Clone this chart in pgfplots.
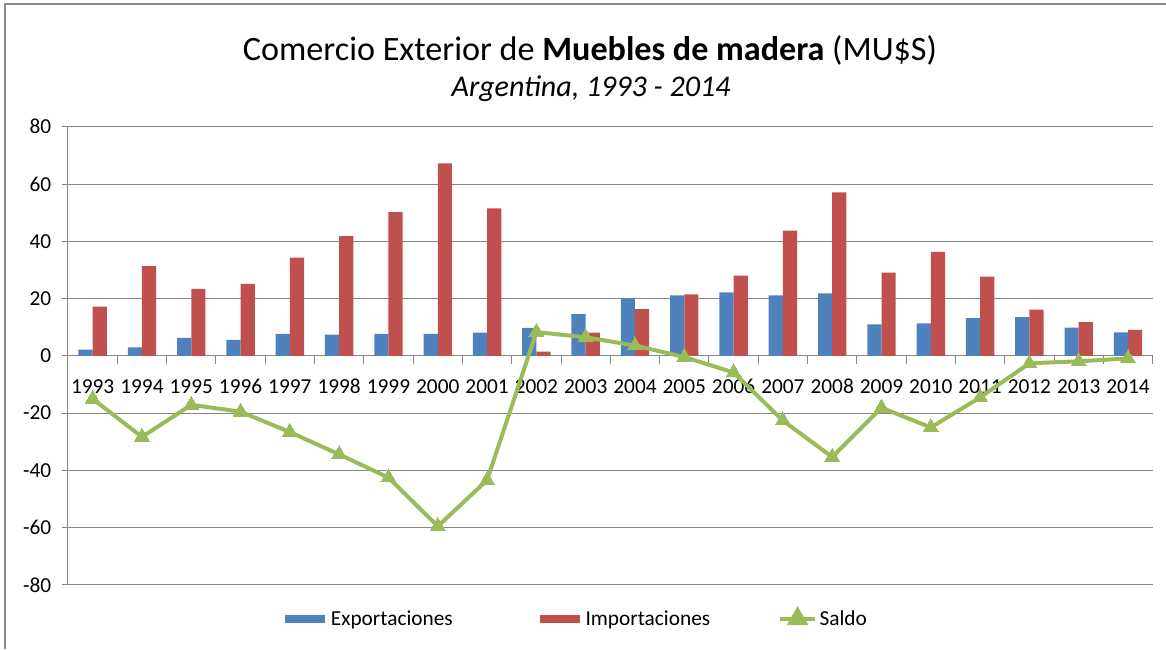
\documentclass[border=0pt]{standalone}
\usepackage{fontspec}
\setmainfont{Carlito}
\usepackage{pgfplots}
\usepackage{pgfplotstable}
\pgfplotsset{compat=1.18}
\definecolor{cblue}{HTML}{4F81BD}
\definecolor{cred}{HTML}{C0504D}
\definecolor{cgreen}{HTML}{9BBB59}
\definecolor{cgrid}{HTML}{868686}
\definecolor{cframe}{HTML}{8A8A8A}

\pgfplotsset{
  bluelegend/.style={legend image code/.code={\fill[cblue] (0pt,-3pt) rectangle (30pt,3pt); \path (32.5pt,0pt);}},
  redlegend/.style={legend image code/.code={\fill[cred] (0pt,-3pt) rectangle (30pt,3pt); \path (32.5pt,0pt);}},
  greenlegend/.style={legend image code/.code={\draw[cgreen, line width=3pt] (0pt,0pt) -- (26pt,0pt);
     \fill[cgreen] (13pt,6.5pt) -- (7.4pt,-3.25pt) -- (18.6pt,-3.25pt) -- cycle;}},
}

\pgfplotstableread{
x exp imp sal
0 2.2 17.2 -15.0
1 3.0 31.3 -28.3
2 6.3 23.4 -17.1
3 5.6 25.1 -19.5
4 7.7 34.3 -26.6
5 7.4 41.8 -34.4
6 7.7 50.2 -42.5
7 7.7 67.2 -59.5
8 8.1 51.5 -43.4
9 9.8 1.5 8.3
10 14.6 8.1 6.5
11 19.9 16.3 3.6
12 21.1 21.5 -0.4
13 22.2 28.0 -5.8
14 21.1 43.7 -22.6
15 21.8 57.1 -35.3
16 11.0 29.1 -18.1
17 11.3 36.3 -25.0
18 13.2 27.7 -14.5
19 13.5 16.1 -2.6
20 9.9 11.8 -1.9
21 8.2 9.1 -0.9
}\data

\begin{document}
\begin{tikzpicture}[x=0.75pt,y=0.75pt]
\path[use as bounding box] (0,0) rectangle (1166,649);
\draw[cframe, line width=1.5pt] (5,0) -- (5,645) -- (1166,645);
\node[anchor=base, font=\fontsize{25.6}{30}\selectfont] at (590,588) {Comercio Exterior de \textbf{Muebles de madera} (MU\$S)};
\node[anchor=base, font=\fontsize{22.5}{27}\selectfont\itshape] at (591,552) {Argentina, 1993 - 2014};
\begin{axis}[
  at={(51pt,48pt)}, anchor=south west, scale only axis,
  width=813.5pt, height=343.7pt,
  xmin=-0.5, xmax=21.5, ymin=-80, ymax=80,
  axis x line*=middle, axis y line*=left,
  axis line style={cgrid, line width=0.75pt},
  ymajorgrids, grid style={cgrid, line width=0.75pt},
  ytick={-80,-60,-40,-20,0,20,40,60,80},
  yticklabels={-80,-60,-40,-20,0,20,40,60,80},
  xtick={0,...,21},
  xticklabels={1993,1994,1995,1996,1997,1998,1999,2000,2001,2002,2003,2004,2005,2006,2007,2008,2009,2010,2011,2012,2013,2014},
  minor xtick={-0.5,0.5,...,21.5},
  tick align=outside,
  major x tick style={draw=none},
  tick style={cgrid, line width=0.75pt},
  major tick length=4.5pt, minor tick length=6pt,
  tick label style={font=\fontsize{16}{19}\selectfont, text=black},
  xticklabel style={text height=11pt, text depth=0pt, yshift=-9pt},
  yticklabel style={xshift=-4.5pt},
  /pgf/number format/assume math mode=true,
  clip=false,
  legend columns=3,
  legend style={at={(0.4695,-0.074)}, anchor=center, draw=none, fill=none,
    font=\fontsize{16}{19}\selectfont,
    /tikz/column 2/.style={column sep=63pt},
    /tikz/column 4/.style={column sep=49pt}},
]
\addplot[ybar, bar width=0.288, bar shift=-0.144, fill=cblue, draw=none, bluelegend]
  table[x=x,y=exp]{\data};
\addlegendentry{Exportaciones}
\addplot[ybar, bar width=0.288, bar shift=0.144, fill=cred, draw=none, redlegend]
  table[x=x,y=imp]{\data};
\addlegendentry{Importaciones}
\addplot[cgreen, line width=3pt, mark=triangle*, mark size=6.5pt,
  mark options={solid, line width=0pt, fill=cgreen}, greenlegend]
  table[x=x,y=sal]{\data};
\addlegendentry{Saldo}
\end{axis}
\end{tikzpicture}
\end{document}
